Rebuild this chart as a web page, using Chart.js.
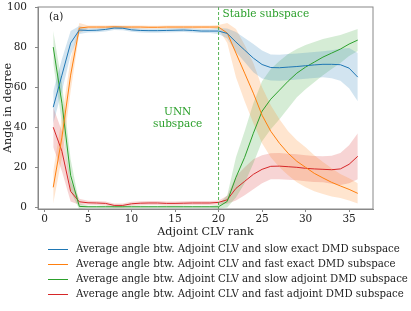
<!DOCTYPE html>
<html>
<head>
<meta charset="utf-8">
<script src="https://cdn.jsdelivr.net/npm/chart.js@4/dist/chart.umd.min.js"></script>
<style>
  html, body { margin: 0; padding: 0; background: #fff; }
  #wrap { position: relative; width: 411px; height: 311px; }
  #legend { position: absolute; left: 48px; top: 241px; font-family: 'DejaVu Serif', serif; font-size: 10.2px; color: #222; }
  #legend .row { height: 15px; line-height: 15px; white-space: nowrap; }
  #legend .swatch { display: inline-block; width: 20px; height: 0; border-top: 1.3px solid; vertical-align: middle; margin-right: 8px; }
</style>
</head>
<body>
<div id="wrap">
  <canvas id="angleChart" width="411" height="311"></canvas>
  <div id="legend"></div>
</div>
<script>
// CLV rank on the x axis
const rank = [1,2,3,4,5,6,7,8,9,10,11,12,13,14,15,16,17,18,19,20,21,22,23,24,25,26,27,28,29,30,31,32,33,34,35,36];

// mean angles (deg)
const slowExact = [50,66,82,88.5,88.3,88.4,88.8,89.5,89.4,88.6,88.3,88.2,88.2,88.3,88.4,88.5,88.3,88.0,88.0,88.0,86.8,82.5,78.5,74.5,71.3,69.8,69.7,70.0,70.3,70.7,71.1,71.4,71.4,71.2,69.5,65];
const fastExact = [10,35,66,89.5,90,90,90,90.1,90,90,90,89.9,89.9,90,90,90,90,90,90,90,87,77,67,57,46,38,32,27,23,20,17,14.7,12.5,10.7,9,7];
const slowAdjoint = [80,52,16,0.5,0.3,0.3,0.3,0.3,0.3,0.3,0.3,0.3,0.3,0.3,0.3,0.3,0.3,0.3,0.3,0.3,3,15,25,37,48,54,58.5,63,67,70,72.5,75,77,79,81.5,83.5];
const fastAdjoint = [40,28,8,2.8,2.3,2.2,2.0,1.0,1.0,1.8,2.1,2.2,2.2,2.0,2.0,2.1,2.2,2.2,2.2,2.5,3.8,9.5,13,16.5,19,20.5,20.6,20.3,20,19.5,19.2,19,18.8,19.2,21.5,25.5];

// spread (std) around each mean
const slowExactStd = [8,8,6,2,1,1,1,1,1,1,1,1,1,1,1,1,1,1,1,1.5,2.5,5,6,7,7,6.5,6.5,6.5,6.5,6.5,6.5,6.5,7,8,10,12];
const fastExactStd = [8,10,8,2.5,0.8,0.8,0.8,0.8,0.8,0.8,0.8,0.8,0.8,0.8,0.8,0.8,0.8,0.8,0.8,1,5,12,14,15,14,13,12,11,10.5,10,9,8,7,6,5.5,5];
const slowAdjointStd = [8,10,8,1.5,0.5,0.5,0.5,0.5,0.5,0.5,0.5,0.5,0.5,0.5,0.5,0.5,0.5,0.5,0.5,1,3,10,13,15,15,15,14.5,13.5,12,11,10,9,8,7,6,5.5];
const fastAdjointStd = [10,10,5,1.5,1,1,1,1,1,1,1,1,1,1,1,1,1,1,1,1,2,6,7,7.5,7,6.5,6.5,6.5,6.5,6.5,6.5,6.5,7,8,9.5,11.5];

const labels = [
    'Average angle btw. Adjoint CLV and slow exact DMD subspace',
    'Average angle btw. Adjoint CLV and fast exact DMD subspace',
    'Average angle btw. Adjoint CLV and slow adjoint DMD subspace',
    'Average angle btw. Adjoint CLV and fast adjoint DMD subspace'
];
const xTicks = [0,5,10,15,20,25,30,35];
const yTicks = [0,20,40,60,80,100];
const splitRank = 20;

const colors = ['#1f77b4', '#ff7f0e', '#2ca02c', '#d62728'];
const bandColors = ['rgba(31,119,180,0.2)', 'rgba(255,127,14,0.2)', 'rgba(44,160,44,0.2)', 'rgba(214,39,40,0.2)'];
const means = [slowExact, fastExact, slowAdjoint, fastAdjoint];
const stds = [slowExactStd, fastExactStd, slowAdjointStd, fastAdjointStd];

const FONT = "'DejaVu Serif', serif";

// lines first so they sit on top of the bands
const datasets = [];
means.forEach((m, i) => {
    datasets.push({
        label: labels[i],
        data: rank.map((r, k) => ({ x: r, y: m[k] })),
        borderColor: colors[i],
        borderWidth: 1,
        pointRadius: 0,
        fill: false
    });
});
means.forEach((m, i) => {
    const lo = datasets.length;
    datasets.push({
        label: 'lo' + i,
        data: rank.map((r, k) => ({ x: r, y: m[k] - stds[i][k] })),
        borderWidth: 0,
        pointRadius: 0,
        fill: false
    });
    datasets.push({
        label: 'hi' + i,
        data: rank.map((r, k) => ({ x: r, y: m[k] + stds[i][k] })),
        borderWidth: 0,
        pointRadius: 0,
        backgroundColor: bandColors[i],
        fill: lo
    });
});

// frame, dashed divider and text notes
const notes = {
    id: 'notes',
    afterDatasetsDraw(chart) {
        const { ctx, chartArea: a, scales: { x, y } } = chart;
        ctx.save();
        const px = x.getPixelForValue(splitRank);
        ctx.strokeStyle = 'rgba(44,160,44,0.8)';
        ctx.lineWidth = 1;
        ctx.setLineDash([3, 2]);
        ctx.beginPath();
        ctx.moveTo(px, a.top);
        ctx.lineTo(px, a.bottom);
        ctx.stroke();
        ctx.setLineDash([]);

        ctx.font = '10.5px ' + FONT;
        ctx.textBaseline = 'middle';
        ctx.fillStyle = '#222';
        ctx.textAlign = 'left';
        ctx.fillText('(a)', x.getPixelForValue(0.5), y.getPixelForValue(95));
        ctx.fillStyle = '#2ca02c';
        ctx.fillText('Stable subspace', px + 4, y.getPixelForValue(96.5));
        ctx.textAlign = 'center';
        ctx.fillText('UNN', x.getPixelForValue(15.3), y.getPixelForValue(47.5));
        ctx.fillText('subspace', x.getPixelForValue(15.3), y.getPixelForValue(41.5));

        ctx.strokeStyle = '#888';
        ctx.lineWidth = 1;
        ctx.strokeRect(a.left, a.top, a.right - a.left, a.bottom - a.top);
        ctx.restore();
    }
};

const ctx = document.getElementById('angleChart').getContext('2d');
new Chart(ctx, {
    type: 'line',
    data: { datasets: datasets },
    options: {
        responsive: false,
        animation: false,
        layout: { padding: { top: 7, right: 38, bottom: 72, left: 0 } },
        plugins: {
            legend: { display: false },
            tooltip: { enabled: false },
            filler: { propagate: false }
        },
        scales: {
            x: {
                type: 'linear',
                min: -0.75,
                max: 37.75,
                afterBuildTicks: s => { s.ticks = xTicks.map(v => ({ value: v })); },
                afterFit: s => { s.height = 30; s.paddingLeft = 0; s.paddingRight = 0; },
                grid: { drawOnChartArea: false, tickLength: 3, color: '#888' },
                border: { color: '#888' },
                ticks: { color: '#222', font: { family: FONT, size: 10.5 }, padding: 1, maxRotation: 0 },
                title: { display: true, text: 'Adjoint CLV rank', color: '#222', font: { family: FONT, size: 11.2 }, padding: 0 }
            },
            y: {
                min: -0.8,
                max: 100,
                afterBuildTicks: s => { s.ticks = yTicks.map(v => ({ value: v })); },
                afterFit: s => { s.width = 38; s.paddingTop = 0; s.paddingBottom = 0; },
                grid: { drawOnChartArea: false, tickLength: 3, color: '#888' },
                border: { color: '#888' },
                ticks: { color: '#222', font: { family: FONT, size: 10.5 }, padding: 8 },
                title: { display: true, text: 'Angle in degree', color: '#222', font: { family: FONT, size: 11.2 }, padding: 1 }
            }
        }
    },
    plugins: [notes]
});

// legend below the plot
const legend = document.getElementById('legend');
labels.forEach((t, i) => {
    const row = document.createElement('div');
    row.className = 'row';
    const sw = document.createElement('span');
    sw.className = 'swatch';
    sw.style.borderTopColor = colors[i];
    row.appendChild(sw);
    row.appendChild(document.createTextNode(t));
    legend.appendChild(row);
});
</script>
</body>
</html>
